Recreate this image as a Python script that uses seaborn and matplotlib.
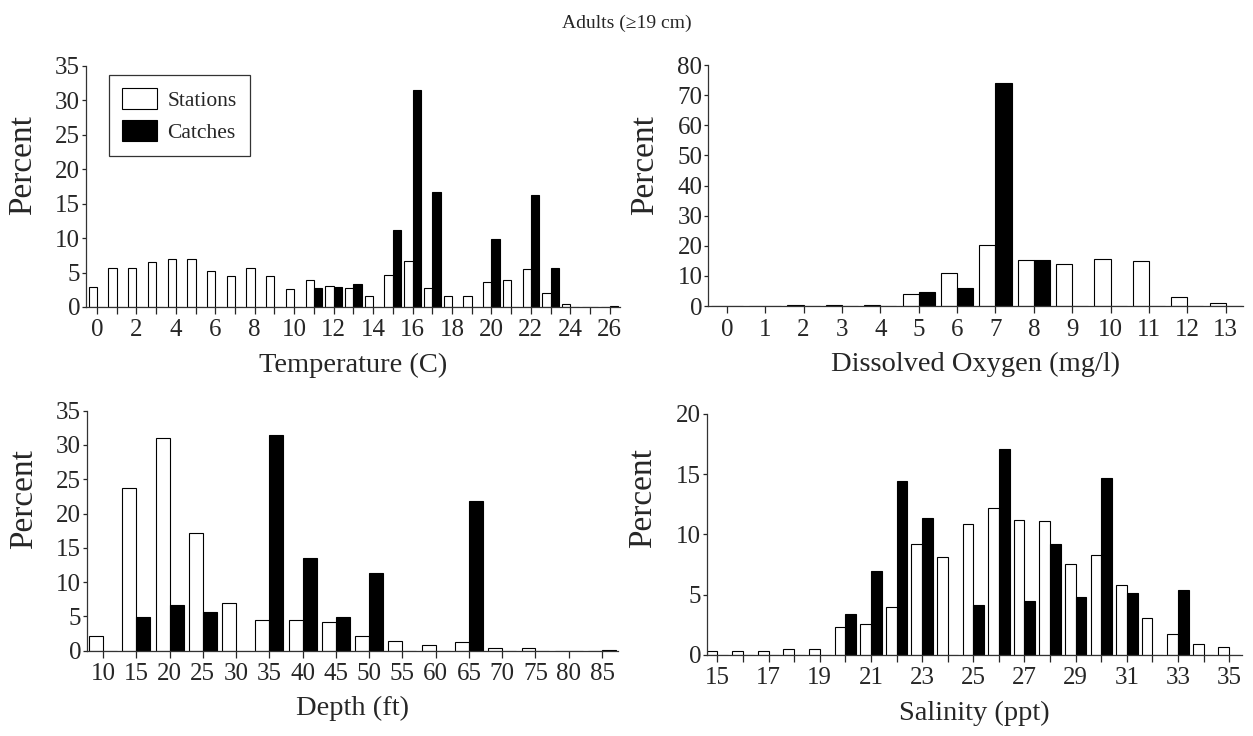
import numpy as np
import pandas as pd
import matplotlib
matplotlib.use("Agg")
import matplotlib.pyplot as plt
import seaborn as sns

# temperature (C)
tempCats = list(range(0, 27))
tempStations = [2.9, 5.65, 5.65, 6.5, 6.95, 6.95, 5.2, 4.45, 5.65, 4.45, 2.6, 3.95, 3.1, 2.75,
                1.55, 4.6, 6.7, 2.75, 1.55, 1.55, 3.6, 3.95, 5.45, 2.1, 0.5, 0, 0]
tempCatches = [0, 0, 0, 0, 0, 0, 0, 0, 0, 0, 0, 2.75, 2.95, 3.3,
               0, 11.1, 31.4, 16.7, 0, 0, 9.9, 0, 16.3, 5.65, 0, 0, 0.1]

# dissolved oxygen (mg/l)
doCats = list(range(0, 14))
doStations = [0.1, 0.1, 0.2, 0.2, 0.5, 3.9, 10.8, 20.2, 15.2, 14.0, 15.5, 14.8, 3.1, 0.9]
doCatches = [0, 0, 0, 0, 0, 4.6, 5.9, 73.9, 15.2, 0, 0, 0, 0, 0]

# depth (ft)
depthCats = list(range(10, 90, 5))
depthStations = [2.2, 23.7, 31.0, 17.2, 7.0, 4.42, 4.42, 4.13, 2.1, 1.4, 0.9, 1.2, 0.35, 0.35, 0, 0]
depthCatches = [0, 4.96, 6.66, 5.64, 0, 31.4, 13.5, 4.96, 11.3, 0, 0, 21.9, 0, 0, 0, 0.1]

# salinity (ppt)
salCats = list(range(15, 36))
salStations = [0.36, 0.36, 0.36, 0.47, 0.47, 2.3, 2.57, 3.96, 9.18, 8.1, 10.9, 12.17, 11.23,
               11.12, 7.52, 8.3, 5.78, 3.07, 1.72, 0.94, 0.64]
salCatches = [0, 0, 0, 0, 0, 3.37, 6.97, 14.44, 11.34, 0, 4.15, 17.07, 4.45,
              9.18, 4.84, 14.7, 5.12, 0, 5.4, 0, 0]


def longForm(cats, stations, catches):
    df = pd.DataFrame({"cat": [str(c) for c in cats] * 2,
                       "pct": list(stations) + list(catches),
                       "series": ["Stations"] * len(cats) + ["Catches"] * len(cats)})
    return df


def barPanel(ax, cats, stations, catches, xlabel, ymax, ystep, labelEvery, xlo, xhi, ylabelY):
    df = longForm(cats, stations, catches)
    sns.barplot(data=df, x="cat", y="pct", hue="series", order=[str(c) for c in cats],
                hue_order=["Stations", "Catches"],
                palette={"Stations": "white", "Catches": "black"},
                edgecolor="black", linewidth=0.8, width=0.84, ax=ax)
    ax.set_ylim(0, ymax)
    ax.set_yticks(np.arange(0, ymax + 1, ystep))
    ax.set_xlim(xlo, len(cats) - 1 + xhi)
    labels = [str(c) if i % labelEvery == 0 else "" for i, c in enumerate(cats)]
    ax.set_xticks(range(len(cats)))
    ax.set_xticklabels(labels)
    ax.set_xlabel(xlabel, fontsize=20.5, labelpad=8)
    ax.set_ylabel("Percent", fontsize=24)
    # label sits a bit above the axis middle in the original
    ax.yaxis.set_label_coords(-0.09, ylabelY)
    ax.tick_params(axis="x", length=5, width=0.9, pad=4, labelsize=18)
    ax.tick_params(axis="y", length=3, width=0.9, pad=1, labelsize=18)
    sns.despine(ax=ax)
    for s in ["left", "bottom"]:
        ax.spines[s].set_color("#333333")
        ax.spines[s].set_linewidth(0.9)
    ax.get_legend().remove()


sns.set_style("ticks")
plt.rcParams["font.family"] = ["Liberation Serif", "DejaVu Serif"]

fig = plt.figure(figsize=(12.53, 7.36), dpi=100)
ax1 = fig.add_axes([0.0684, 0.5829, 0.4264, 0.3279])
ax2 = fig.add_axes([0.5650, 0.5842, 0.4270, 0.3274])
ax3 = fig.add_axes([0.0692, 0.1159, 0.4240, 0.3261])
ax4 = fig.add_axes([0.5640, 0.1101, 0.4270, 0.3274])

barPanel(ax1, tempCats, tempStations, tempCatches, "Temperature (C)", 35, 5, 2, -0.57, 0.52, 0.59)
barPanel(ax2, doCats, doStations, doCatches, "Dissolved Oxygen (mg/l)", 80, 10, 1, -0.49, 0.45, 0.585)
barPanel(ax3, depthCats, depthStations, depthCatches, "Depth (ft)", 35, 5, 1, -0.49, 0.48, 0.63)
barPanel(ax4, salCats, salStations, salCatches, "Salinity (ppt)", 20, 5, 2, -0.42, 0.49, 0.65)

# legend in first panel
handles = [plt.Rectangle((0, 0), 1, 1, facecolor="white", edgecolor="black", linewidth=0.8),
           plt.Rectangle((0, 0), 1, 1, facecolor="black", edgecolor="black", linewidth=0.8)]
leg = ax1.legend(handles, ["Stations", "Catches"], loc="upper left",
                 bbox_to_anchor=(0.044, 0.961), borderaxespad=0, fontsize=15.5,
                 frameon=True, fancybox=False,
                 edgecolor="black", handlelength=1.6, handleheight=1.1, borderpad=0.6,
                 labelspacing=0.45, handletextpad=0.5)
leg.get_frame().set_linewidth(0.9)

fig.text(0.5, 0.968, "Adults (\u226519 cm)", ha="center", va="center", fontsize=14)

fig.savefig("out.png", dpi=100)
